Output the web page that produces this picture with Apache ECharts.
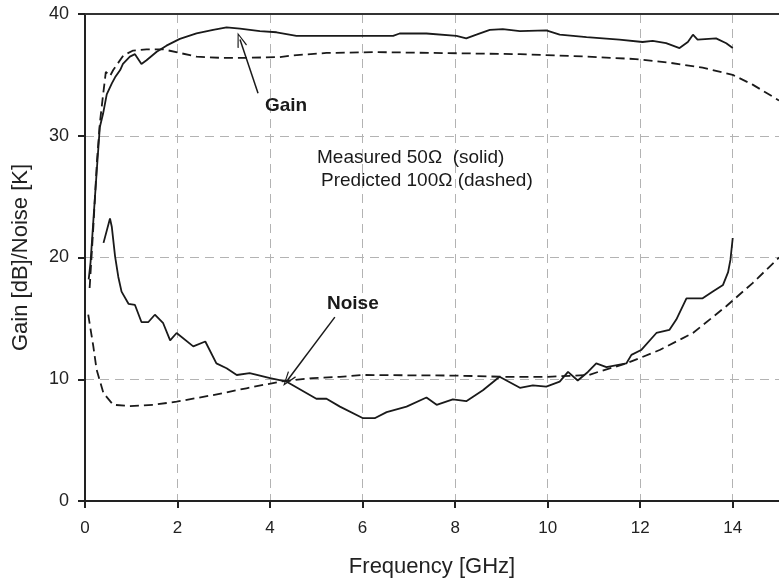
<!DOCTYPE html>
<html><head><meta charset="utf-8">
<script src="https://cdn.jsdelivr.net/npm/echarts@6/dist/echarts.min.js"></script>
<style>html,body{margin:0;padding:0;background:#fff}#c{width:779px;height:583px}</style>
</head><body><div id="c"></div>
<script>
var xTicks = [0, 2, 4, 6, 8, 10, 12, 14];
var yTicks = [0, 10, 20, 30, 40];

var gainMeasured = [[0.08,18.2],[0.12,19.6],[0.18,23.0],[0.25,26.9],[0.32,30.7],[0.39,31.8],[0.47,33.4],[0.58,34.3],[0.65,34.8],[0.76,35.4],[0.82,35.9],[0.97,36.5],[1.08,36.7],[1.22,35.9],[1.33,36.2],[1.55,36.9],[1.76,37.4],[2.05,37.96],[2.41,38.4],[2.77,38.7],[3.06,38.9],[3.35,38.8],[3.78,38.6],[4.14,38.5],[4.57,38.2],[5.94,38.2],[6.66,38.2],[6.8,38.4],[7.38,38.4],[8.03,38.2],[8.24,38.0],[8.46,38.3],[8.75,38.7],[9.03,38.76],[9.4,38.6],[9.97,38.65],[10.26,38.3],[10.84,38.1],[11.55,37.9],[12.05,37.7],[12.27,37.8],[12.56,37.6],[12.85,37.2],[13.03,37.7],[13.14,38.3],[13.24,37.9],[13.64,38.0],[13.86,37.6],[14.0,37.2]];

var gainPredicted = [[0.1,17.5],[0.18,22.5],[0.26,28.0],[0.32,31.0],[0.38,33.0],[0.45,35.25],[0.54,34.9],[0.61,35.4],[0.83,36.6],[1.04,37.0],[1.33,37.1],[1.69,37.1],[2.05,36.8],[2.41,36.5],[2.92,36.4],[3.5,36.4],[4.21,36.46],[4.5,36.6],[5.22,36.8],[6.3,36.87],[9.4,36.7],[10.84,36.5],[11.9,36.3],[12.63,36.0],[13.35,35.6],[14.0,35.0],[14.43,34.2],[15.0,32.9]];

var noiseMeasured = [[0.4,21.2],[0.54,23.2],[0.58,22.5],[0.65,20.1],[0.72,18.4],[0.79,17.2],[0.94,16.2],[1.08,16.1],[1.22,14.7],[1.37,14.7],[1.51,15.3],[1.69,14.6],[1.84,13.2],[1.98,13.8],[2.34,12.7],[2.6,13.1],[2.84,11.3],[3.06,10.9],[3.28,10.35],[3.56,10.5],[4.0,10.1],[4.36,9.8],[5.0,8.4],[5.22,8.4],[5.51,7.75],[6.01,6.8],[6.26,6.8],[6.52,7.3],[6.95,7.75],[7.38,8.5],[7.6,7.9],[7.95,8.35],[8.24,8.2],[8.6,9.1],[8.96,10.2],[9.4,9.3],[9.68,9.5],[9.97,9.4],[10.26,9.8],[10.44,10.6],[10.65,9.9],[10.87,10.6],[11.05,11.3],[11.27,11.0],[11.7,11.3],[11.81,12.0],[12.02,12.4],[12.35,13.8],[12.63,14.05],[12.78,14.9],[13.0,16.65],[13.35,16.65],[13.57,17.2],[13.79,17.75],[13.9,18.8],[13.95,19.8],[14.0,21.6]];

var noisePredicted = [[0.07,15.3],[0.18,12.7],[0.25,10.8],[0.4,8.85],[0.61,7.9],[0.97,7.8],[1.48,7.9],[1.98,8.16],[2.77,8.7],[3.49,9.26],[4.21,9.8],[4.93,10.1],[5.51,10.2],[6.01,10.35],[8.03,10.3],[9.03,10.2],[10.0,10.2],[10.9,10.35],[11.09,10.6],[11.7,11.3],[12.42,12.4],[13.14,13.8],[13.86,16.0],[14.43,17.9],[15.0,20.0]];

var gainArrow = [[3.74,33.5],[3.35,37.9]];
var noiseArrow = [[5.4,15.1],[4.38,9.94]];

var chart = echarts.init(document.getElementById('c'), null, {renderer:'canvas'});
var F = '"Liberation Sans", Arial, sans-serif';
var lineCol = '#1a1a1a';
var gridLine = {show:true, lineStyle:{color:'#b3b3b3', width:1, type:[9,6]}};
var chevron = 'path://M5,0 L10,14 L8.9,14.5 L5,3.2 L1.1,14.5 L0,14 Z';

function lineSeries(name, data, dashed, arrow) {
  var s = {
    name:name, type:'line', data:data, showSymbol:false, symbol:'none', smooth:false,
    lineStyle:{color:lineCol, width:1.8, type: dashed ? [9,5] : 'solid'},
    z:5, silent:true, animation:false
  };
  if (arrow) {
    s.markLine = {
      silent:true, animation:false, symbol:['none', chevron], symbolSize:[10,15],
      label:{show:false},
      lineStyle:{color:lineCol, width:1.5, type:'solid'},
      data:[[{coord:arrow[0]},{coord:arrow[1]}]]
    };
  }
  return s;
}

chart.setOption({
  animation:false,
  backgroundColor:'#fff',
  grid:{left:85, right:-1, top:14, bottom:82, containLabel:false},
  xAxis:[{
    type:'value', min:0, max:15, interval:2,
    name:'Frequency [GHz]', nameLocation:'middle', nameGap:55,
    nameTextStyle:{fontFamily:F, fontSize:22, color:'#222'},
    axisLine:{show:true, onZero:false, lineStyle:{color:'#222', width:2}},
    axisTick:{show:true, length:7, customValues:xTicks, lineStyle:{color:'#222', width:2}},
    axisLabel:{fontFamily:F, fontSize:17, color:'#222', margin:19, customValues:xTicks,
      formatter:function(v){return xTicks.indexOf(v)>=0 ? String(v) : '';}},
    splitLine:gridLine
  },{
    type:'value', position:'top', min:0, max:15,
    axisLine:{show:true, onZero:false, lineStyle:{color:'#333', width:2}},
    axisTick:{show:false}, axisLabel:{show:false}, splitLine:{show:false}
  }],
  yAxis:{
    type:'value', min:0, max:40, interval:10,
    name:'Gain [dB]/Noise [K]', nameLocation:'middle', nameGap:53,
    nameTextStyle:{fontFamily:F, fontSize:22, color:'#222'},
    axisLine:{show:true, onZero:false, lineStyle:{color:'#222', width:2}},
    axisTick:{show:true, length:7, lineStyle:{color:'#222', width:2}},
    axisLabel:{fontFamily:F, fontSize:18, color:'#222', margin:16,
      formatter:function(v){return yTicks.indexOf(v)>=0 ? String(v) : '';}},
    splitLine:gridLine
  },
  series:[
    lineSeries('Gain measured', gainMeasured, false, gainArrow),
    lineSeries('Gain predicted', gainPredicted, true, null),
    lineSeries('Noise measured', noiseMeasured, false, noiseArrow),
    lineSeries('Noise predicted', noisePredicted, true, null)
  ],
  graphic:[
    {type:'text', x:265, y:106, style:{text:'Gain', font:'bold 19px '+F, fill:'#1a1a1a', verticalAlign:'middle'}, z:10},
    {type:'text', x:327, y:304, style:{text:'Noise', font:'bold 19px '+F, fill:'#1a1a1a', verticalAlign:'middle'}, z:10},
    {type:'text', x:317, y:157.5, style:{text:'Measured 50\u03A9  (solid)', font:'19px '+F, fill:'#1a1a1a', verticalAlign:'middle'}, z:10},
    {type:'text', x:321, y:180.5, style:{text:'Predicted 100\u03A9 (dashed)', font:'19px '+F, fill:'#1a1a1a', verticalAlign:'middle'}, z:10}
  ]
});
</script></body></html>
